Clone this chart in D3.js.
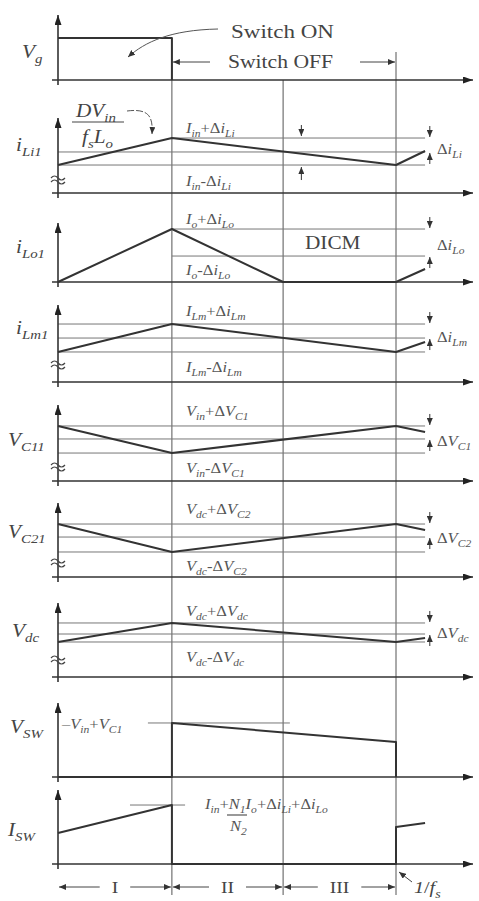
<!DOCTYPE html>
<html>
<head>
<meta charset="utf-8">
<script src="https://cdn.jsdelivr.net/npm/d3@7/dist/d3.min.js"></script>
<style>
  body { margin: 0; background: #fff; }
  svg { display: block; }
  text { font-family: "Liberation Serif", "DejaVu Serif", serif; fill: #444; }
</style>
</head>
<body>
<svg id="chart" width="479" height="901"></svg>
<script>
// time axis in units of one switching period (0 = switch on, 1 = next switch on)
const tOff = 0.337;   // switch turns off
const tZero = 0.666;  // output inductor current reaches zero (DICM)
const tEnd = 1;
const tTail = 1.086;

// waveforms: [t, normalized level]
const vgWave   = [[0, 0.646], [tOff, 0.646], [tOff, 0]];
const iLi1Wave = [[0, 0.373], [tOff, 0.733], [tEnd, 0.373], [tTail, 0.56]];
const iLo1Wave = [[0, 0], [tOff, 0.898], [tZero, 0], [tEnd, 0], [tTail, 0.22]];
const iLm1Wave = [[0, 0.39], [tOff, 0.753], [tEnd, 0.39], [tTail, 0.52]];
const vC11Wave = [[0, 0.724], [tOff, 0.368], [tEnd, 0.724], [tTail, 0.645]];
const vC21Wave = [[0, 0.716], [tOff, 0.338], [tEnd, 0.716], [tTail, 0.635]];
const vdcWave  = [[0, 0.473], [tOff, 0.73], [tEnd, 0.473], [tTail, 0.527]];
const vswWave  = [[0, 0], [tOff, 0], [tOff, 0.73], [tEnd, 0.473], [tEnd, 0]];
const iswWave  = [[0, 0.419], [tOff, 0.797], [tOff, 0], [tEnd, 0], [tEnd, 0.5], [tTail, 0.554]];

// reference levels: [level, tStart, tStop]
const iLi1Levels = [[0.733, tOff, tTail], [0.547, 0, tTail], [0.373, 0, tTail]];
const iLo1Levels = [[0.898, tOff, tTail], [0.44, tOff, tTail]];
const iLm1Levels = [[0.753, 0, tTail], [0.571, 0, tTail], [0.39, 0, tTail]];
const vC11Levels = [[0.724, 0, tTail], [0.553, 0, tTail], [0.368, 0, tTail]];
const vC21Levels = [[0.716, 0, tTail], [0.54, 0, tTail], [0.338, 0, tTail]];
const vdcLevels  = [[0.73, 0, tTail], [0.581, 0, tTail], [0.473, 0, tTail]];
const vswLevels  = [[0.73, 0.266, 0.686]];
const iswLevels  = [[0.797, 0.213, 0.376]];

// labels ({..} = subscript)
const axisLabels = ["V{g}", "i{Li1}", "i{Lo1}", "i{Lm1}", "V{C11}", "V{C21}", "V{dc}", "V{SW}", "I{SW}"];
const upperLabels = [null, "I{in}+Δi{Li}", "I{o}+Δi{Lo}", "I{Lm}+Δi{Lm}", "V{in}+ΔV{C1}", "V{dc}+ΔV{C2}", "V{dc}+ΔV{dc}", null, null];
const lowerLabels = [null, "I{in}-Δi{Li}", "I{o}-Δi{Lo}", "I{Lm}-Δi{Lm}", "V{in}-ΔV{C1}", "V{dc}-ΔV{C2}", "V{dc}-ΔV{dc}", null, null];
const rippleLabels = [null, "Δi{Li}", "Δi{Lo}", "Δi{Lm}", "ΔV{C1}", "ΔV{C2}", "ΔV{dc}", null, null];
const intervals = [[0, tOff, "I"], [tOff, tZero, "II"], [tZero, tEnd, "III"]];

const waves  = [vgWave, iLi1Wave, iLo1Wave, iLm1Wave, vC11Wave, vC21Wave, vdcWave, vswWave, iswWave];
const levels = [[], iLi1Levels, iLo1Levels, iLm1Levels, vC11Levels, vC21Levels, vdcLevels, vswLevels, iswLevels];

// panel layout (pixels)
const layout = [
  { base: 80,  top: 15,  lx: 22, ly: 58,  up: 0,   lo: 0,   rl: 0,   brk: null },
  { base: 193, top: 118, lx: 16, ly: 151, up: 133, lo: 186, rl: 154, brk: 180 },
  { base: 282, top: 223, lx: 16, ly: 253, up: 224, lo: 275, rl: 250, brk: null },
  { base: 382, top: 305, lx: 16, ly: 334, up: 316, lo: 372, rl: 342, brk: 365 },
  { base: 481, top: 405, lx: 8,  ly: 446, up: 416, lo: 473, rl: 446, brk: 467 },
  { base: 577, top: 503, lx: 8,  ly: 538, up: 514, lo: 571, rl: 543, brk: 563 },
  { base: 677, top: 603, lx: 12, ly: 637, up: 616, lo: 662, rl: 638, brk: 660 },
  { base: 777, top: 703, lx: 10, ly: 733, up: 0,   lo: 0,   rl: 0,   brk: null },
  { base: 864, top: 790, lx: 8,  ly: 836, up: 0,   lo: 0,   rl: 0,   brk: null }
];

const svg = d3.select("#chart");
const x = d3.scaleLinear().domain([0, 1]).range([58, 396]);
const ink = "#333", thin = "#777";
const SX = 1.18; // text is horizontally stretched in the source

const defs = svg.append("defs");
function marker(id, w, h, color) {
  defs.append("marker")
    .attr("id", id)
    .attr("markerUnits", "userSpaceOnUse")
    .attr("markerWidth", w).attr("markerHeight", h)
    .attr("refX", w).attr("refY", h / 2)
    .attr("orient", "auto-start-reverse")
    .append("path")
    .attr("d", `M0,0L${w},${h / 2}L0,${h}Z`)
    .attr("fill", color);
}
marker("big", 10, 7, "#222");
marker("small", 7, 6, "#333");

// text with subscripts; Δ + - shown upright
function rich(g, px, py, str, size, opts = {}) {
  const t = g.append("text")
    .attr("transform", `translate(${px},${py}) scale(${opts.sx || SX},1)`)
    .style("font-size", size + "px")
    .style("font-style", opts.upright ? "normal" : "italic")
    .style("fill", opts.fill || null);
  let shifted = false;
  str.split(/(\{[^}]*\})/).filter(s => s).forEach(s => {
    const sub = s[0] === "{";
    const body = sub ? s.slice(1, -1) : s;
    const runs = sub ? [body] : body.split(/([Δ+\-–\/])/).filter(r => r);
    runs.forEach((r, k) => {
      const ts = t.append("tspan").text(r);
      if (k === 0) {
        if (sub && !shifted) { ts.attr("dy", size * 0.28); shifted = true; }
        else if (!sub && shifted) { ts.attr("dy", -size * 0.28); shifted = false; }
      }
      if (sub) ts.style("font-size", (size * 0.7) + "px");
      if (!sub && /^[Δ+\-–\/]$/.test(r)) ts.style("font-style", "normal");
    });
  });
  return t;
}

const line = d3.line().x(d => d.x).y(d => d.y);

// vertical phase lines
[[tOff, 38], [tZero, 80], [tEnd, 52]].forEach(([t, y0]) => {
  svg.append("line")
    .attr("x1", x(t)).attr("x2", x(t))
    .attr("y1", y0).attr("y2", 895)
    .attr("stroke", "#555").attr("stroke-width", 1);
});

layout.forEach((p, i) => {
  const y = d3.scaleLinear().domain([0, 1]).range([p.base, p.top]);
  const g = svg.append("g");

  // reference levels
  levels[i].forEach(([v, t0, t1]) => {
    g.append("line")
      .attr("x1", x(t0)).attr("x2", x(t1))
      .attr("y1", y(v)).attr("y2", y(v))
      .attr("stroke", thin).attr("stroke-width", 1);
  });

  // axes
  g.append("line").attr("x1", 52).attr("x2", 473).attr("y1", p.base).attr("y2", p.base)
    .attr("stroke", "#333").attr("stroke-width", 1.6).attr("marker-end", "url(#big)");
  g.append("line").attr("x1", x(0)).attr("x2", x(0)).attr("y1", p.base + 5).attr("y2", p.top)
    .attr("stroke", "#333").attr("stroke-width", 1.6).attr("marker-end", "url(#big)");

  // waveform
  g.append("path")
    .attr("d", line(waves[i].map(([t, v]) => ({ x: x(t), y: y(v) }))))
    .attr("fill", "none").attr("stroke", ink).attr("stroke-width", 2)
    .attr("stroke-linejoin", "round");

  // axis break
  if (p.brk) {
    [-2, 2].forEach(o => {
      g.append("path")
        .attr("d", `M${x(0) - 7},${p.brk + o} q3.5,-4 7,0 t7,0`)
        .attr("fill", "none").attr("stroke", "#444").attr("stroke-width", 1.2);
    });
  }

  rich(g, p.lx, p.ly, axisLabels[i], 18, { fill: "#444" });
  if (upperLabels[i]) rich(g, 186, p.up, upperLabels[i], 14, { fill: "#555" });
  if (lowerLabels[i]) rich(g, 186, p.lo, lowerLabels[i], 14, { fill: "#555" });

  // ripple arrows at right
  if (rippleLabels[i]) {
    const lv = levels[i];
    const yTop = y(lv[0][0]), yMid = y(lv[1][0]);
    const ax = x(1.1);
    g.append("line").attr("x1", ax).attr("x2", ax).attr("y1", yTop - 12).attr("y2", yTop - 1)
      .attr("stroke", "#333").attr("marker-end", "url(#small)");
    g.append("line").attr("x1", ax).attr("x2", ax).attr("y1", yMid + 12).attr("y2", yMid + 1)
      .attr("stroke", "#333").attr("marker-end", "url(#small)");
    rich(g, 437, p.rl, rippleLabels[i], 14, { fill: "#555" });
  }
});

// iLi1 extra ripple arrows (middle)
{
  const p = layout[1];
  const y = d3.scaleLinear().domain([0, 1]).range([p.base, p.top]);
  const ax = x(0.72);
  svg.append("line").attr("x1", ax).attr("x2", ax).attr("y1", y(iLi1Levels[0][0]) - 13).attr("y2", y(iLi1Levels[0][0]) - 2)
    .attr("stroke", "#333").attr("marker-end", "url(#small)");
  svg.append("line").attr("x1", ax).attr("x2", ax).attr("y1", y(iLi1Levels[2][0]) + 15).attr("y2", y(iLi1Levels[2][0]) + 2)
    .attr("stroke", "#333").attr("marker-end", "url(#small)");
}

// DVin / fsLo slope annotation
rich(svg, 76, 117, "DV{in}", 18, { fill: "#444" });
svg.append("line").attr("x1", 72).attr("x2", 124).attr("y1", 122).attr("y2", 122).attr("stroke", "#444").attr("stroke-width", 1.2);
rich(svg, 82, 143, "f{s}L{o}", 18, { fill: "#444" });
svg.append("path").attr("d", "M127,111 C150,108 153,118 152,134")
  .attr("fill", "none").attr("stroke", "#555").attr("stroke-width", 1).attr("stroke-dasharray", "7,2")
  .attr("marker-end", "url(#small)");

// switch annotations
rich(svg, 231, 38, "Switch ON", 18, { upright: true, sx: 1.28 });
svg.append("path").attr("d", "M218,29 C170,30 145,42 128,57")
  .attr("fill", "none").attr("stroke", "#555").attr("stroke-width", 1)
  .attr("marker-end", "url(#small)");
rich(svg, 228, 68, "Switch OFF", 18, { upright: true, sx: 1.2 });
svg.append("line").attr("x1", 210).attr("x2", x(tOff) + 1).attr("y1", 62).attr("y2", 62)
  .attr("stroke", "#444").attr("marker-end", "url(#small)");
svg.append("line").attr("x1", 360).attr("x2", x(tEnd) - 1).attr("y1", 62).attr("y2", 62)
  .attr("stroke", "#444").attr("marker-end", "url(#small)");

// DICM
rich(svg, 305, 249, "DICM", 19, { upright: true, sx: 1.12 });

// VSW and ISW annotations
rich(svg, 62, 729, "–V{in}+V{C1}", 14, { fill: "#555" });
rich(svg, 205, 809, "I{in}+N{1}I{o}+Δi{Li}+Δi{Lo}", 14, { fill: "#555" });
svg.append("line").attr("x1", 227).attr("x2", 247).attr("y1", 815).attr("y2", 815).attr("stroke", "#555").attr("stroke-width", 1.2);
rich(svg, 230, 831, "N{2}", 14, { fill: "#555" });

// interval arrows
intervals.forEach(([t0, t1, lab]) => {
  const cx = (x(t0) + x(t1)) / 2;
  const t = rich(svg, cx, 893, lab, 17, { upright: true, sx: 1.15 });
  t.attr("text-anchor", "middle");
  const half = t.node().getBBox().width * 1.15 / 2 + 12;
  svg.append("line").attr("x1", cx - half).attr("x2", x(t0) + 1).attr("y1", 887).attr("y2", 887)
    .attr("stroke", "#444").attr("marker-end", "url(#small)");
  svg.append("line").attr("x1", cx + half).attr("x2", x(t1) - 1).attr("y1", 887).attr("y2", 887)
    .attr("stroke", "#444").attr("marker-end", "url(#small)");
});
rich(svg, 414, 893, "1/f{s}", 17, { fill: "#444" });
svg.append("line").attr("x1", 412).attr("x2", 399).attr("y1", 882).attr("y2", 872)
  .attr("stroke", "#444").attr("marker-end", "url(#small)");
</script>
</body>
</html>
